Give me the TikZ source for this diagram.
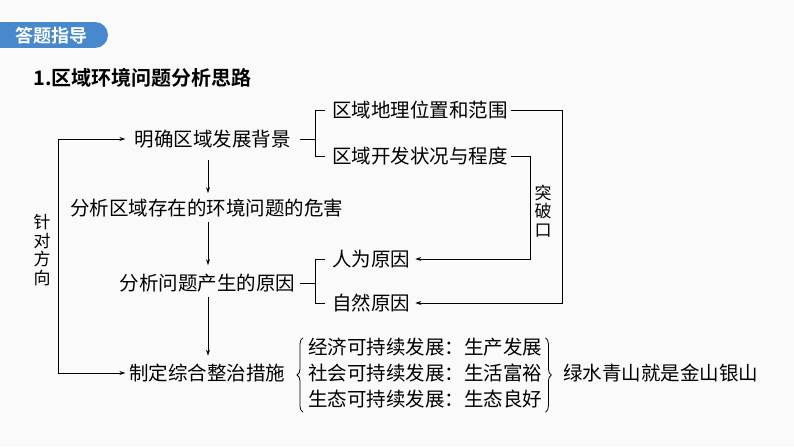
\documentclass[tikz,border=0pt]{standalone}
\usepackage{fontspec}
\setmainfont{Noto Sans CJK SC}[BoldFont={Noto Sans CJK SC Bold}]
\usetikzlibrary{arrows.meta,decorations.pathreplacing,calc}
\definecolor{tabblue}{RGB}{72,136,204}
\definecolor{bgc}{RGB}{250,250,250}
\begin{document}
\begin{tikzpicture}[x=1pt,y=-1pt,
  lbl/.style={inner sep=0pt,text height=16.8pt,text depth=2.7pt,font=\fontsize{19.5}{22}\selectfont},
  ln/.style={line width=0.8pt,black},
  tip/.style={-{Stealth[length=6pt,width=4pt]}},
  arr/.style={ln,tip},
  vtxt/.style={inner sep=0pt,align=center,font=\fontsize{17}{18.5}\selectfont},
  brc/.style={ln,decorate,decoration={brace,amplitude=6pt}}]
\fill[bgc] (0,0) rectangle (794,447);
\useasboundingbox (0,0) rectangle (794,447);
% tab
\fill[tabblue] (0,22) rectangle (95,48);
\fill[tabblue] (95,35) circle (13);
\node[font=\bfseries\fontsize{18}{20}\selectfont,text=white,inner sep=0pt] (tab) at (51,36) {答题指导};
\node[anchor=west,font=\bfseries\fontsize{20}{22}\selectfont,inner sep=0pt] (title) at (33,78) {1.区域环境问题分析思路};
% main column
\node[lbl] (n1) at (212.5,139) {明确区域发展背景};
\node[lbl] (n2) at (206.5,208) {分析区域存在的环境问题的危害};
\node[lbl] (n3) at (207.5,283) {分析问题产生的原因};
\node[lbl] (n4) at (207,373) {制定综合整治措施};
% branches
\node[lbl,anchor=west] (a1) at (332,110) {区域地理位置和范围};
\node[lbl,anchor=west] (a2) at (332,156) {区域开发状况与程度};
\node[lbl,anchor=west] (b1) at (332,259) {人为原因};
\node[lbl,anchor=west] (b2) at (332,303) {自然原因};
\node[lbl,anchor=west] (c1) at (308,347) {经济可持续发展：生产发展};
\node[lbl,anchor=west] (c2) at (308,373) {社会可持续发展：生活富裕};
\node[lbl,anchor=west] (c3) at (308,399) {生态可持续发展：生态良好};
\node[lbl,anchor=west] (d) at (563,373) {绿水青山就是金山银山};
\node[vtxt] (v1) at (42,250) {针\\对\\方\\向};
\node[vtxt] (v2) at (543,211) {突\\破\\口};
% helper coordinates
\coordinate (ax) at (208,0);
\coordinate (lx) at (58,0);
\coordinate (bx) at (315,0);
\coordinate (rx1) at (530,0);
\coordinate (rx2) at (562,0);
% vertical arrows
\draw[arr] ($(n1.south -| ax)+(0,11.5)$) -- ($(n2.north -| ax)+(0,-5)$);
\draw[arr] ($(n2.south -| ax)+(0,4.5)$) -- ($(n3.north -| ax)+(0,-8)$);
\draw[arr] ($(n3.south -| ax)+(0,4)$) -- ($(n4.north -| ax)+(0,-7.5)$);
% brackets
\draw[ln] ($(n1.east)+(9,0)$) -- (n1.east -| bx);
\draw[ln] ($(a1.west)+(-7,0)$) -- (a1.west -| bx) -- (a2.west -| bx) -- ($(a2.west)+(-7,0)$);
\draw[ln] ($(n3.east)+(5,0)$) -- (n3.east -| bx);
\draw[ln] ($(b1.west)+(-7,0)$) -- (b1.west -| bx) -- (b2.west -| bx) -- ($(b2.west)+(-7,0)$);
% right connectors
\draw[arr] ($(a1.east)+(3,0)$) -- (a1.east -| rx2) -- (b2.east -| rx2) -- ($(b2.east)+(5,0)$);
\draw[arr] ($(a2.east)+(3,0)$) -- (a2.east -| rx1) -- (b1.east -| rx1) -- ($(b1.east)+(5,0)$);
% left loop
\draw[ln,{Stealth[length=6pt,width=4pt]}-{Stealth[length=6pt,width=4pt]}] ($(n1.west)+(-9,0)$) -- (n1.west -| lx) -- (n4.west -| lx) -- ($(n4.west)+(-3.5,0)$);
% braces
\draw[brc] ($(c3.south west)+(-5,3.25)$) -- ($(c1.north west)+(-5,0.75)$);
\draw[brc] ($(c1.north east)+(3,0.75)$) -- ($(c3.south east)+(3,3.25)$);
\end{tikzpicture}
\end{document}
